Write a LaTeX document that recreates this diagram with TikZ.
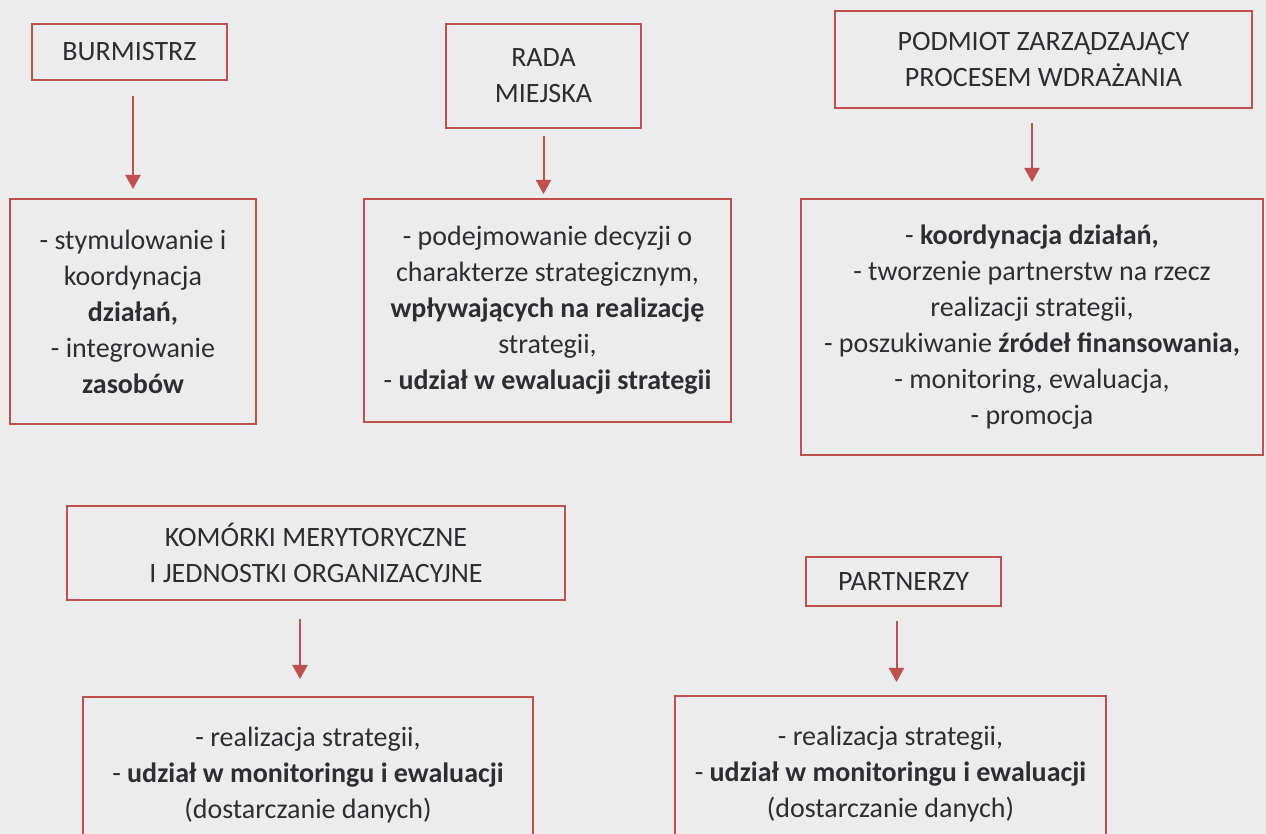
\documentclass[tikz,border=0pt]{standalone}
\usepackage{fontspec}
\setmainfont{Carlito}
\usetikzlibrary{arrows.meta}
\definecolor{boxred}{HTML}{C0504D}
\definecolor{paper}{RGB}{236,236,237}
\definecolor{ink}{RGB}{45,45,50}
\begin{document}
\begin{tikzpicture}[x=0.5pt,y=-0.5pt,
    box/.style={draw=boxred,line width=1pt,align=center,inner sep=0pt,
      text=ink,font={\fontsize{14}{18}\selectfont}},
    arr/.style={draw=boxred,line width=1pt,-{Triangle[width=7.5pt,length=7pt]}}]
  \useasboundingbox (0,0) rectangle (1266,834);
  \fill[paper] (0,0) rectangle (1266,834);
  \clip (0,0) rectangle (1266,834);
  % upper row
  \node[box,minimum width=97.5pt,minimum height=28pt] (burm) at (129.5,52) {BURMISTRZ};
  \node[box,minimum width=97.5pt,minimum height=52pt] (rada) at (543.5,76) {RADA\\MIEJSKA};
  \node[box,minimum width=208.5pt,minimum height=48.5pt] (podm) at (1043.5,59.5)
    {PODMIOT ZARZĄDZAJĄCY\\PROCESEM WDRAŻANIA};
  \node[box,minimum width=123pt,minimum height=112.5pt] (burmtask) at (133,311.5)
    {- stymulowanie i\\koordynacja\\\textbf{działań,}\\- integrowanie\\\textbf{zasobów}};
  \node[box,minimum width=183.5pt,minimum height=111.5pt] (radatask) at (547.5,310.5)
    {- podejmowanie decyzji o\\charakterze strategicznym,\\\textbf{wpływających na realizację}\\strategii,\\- \textbf{udział w ewaluacji strategii}};
  \node[box,minimum width=231pt,minimum height=128pt] (podmtask) at (1032,327)
    {- \textbf{koordynacja działań,}\\- tworzenie partnerstw na rzecz\\realizacji strategii,\\- poszukiwanie \textbf{źródeł finansowania,}\\- monitoring, ewaluacja,\\- promocja};
  % lower row
  \node[box,minimum width=249pt,minimum height=47pt] (kom) at (316,553)
    {KOMÓRKI MERYTORYCZNE\\I JEDNOSTKI ORGANIZACYJNE};
  \node[box,minimum width=97.5pt,minimum height=24.5pt] (part) at (903.5,581.5) {PARTNERZY};
  \node[box,minimum width=225pt,minimum height=78pt] (komtask) at (308,775)
    {- realizacja strategii,\\- \textbf{udział w monitoringu i ewaluacji}\\(dostarczanie danych)};
  \node[box,minimum width=215.5pt,minimum height=78pt] (parttask) at (890.5,774)
    {- realizacja strategii,\\- \textbf{udział w monitoringu i ewaluacji}\\(dostarczanie danych)};
  % arrows
  \draw[arr,shorten <=7.5pt,shorten >=4.5pt] (burmtask.north |- burm.south) -- (burmtask.north);
  \draw[arr,shorten <=3.5pt,shorten >=2pt] (rada.south) -- (rada.south |- radatask.north);
  \draw[arr,shorten <=7pt,shorten >=8pt] (podmtask.north |- podm.south) -- (podmtask.north);
  \draw[arr,shorten <=9pt,shorten >=8.5pt] ([xshift=-8pt]kom.south) -- ([xshift=-8pt]kom.south |- komtask.north);
  \draw[arr,shorten <=7pt,shorten >=6.5pt] ([xshift=-3.5pt]part.south) -- ([xshift=-3.5pt]part.south |- parttask.north);
\end{tikzpicture}
\end{document}
